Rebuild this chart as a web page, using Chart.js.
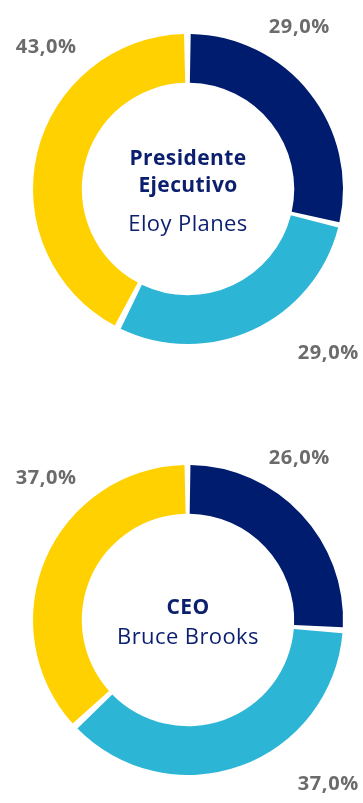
<!DOCTYPE html>
<html lang="es">
<head>
<meta charset="utf-8">
<title>Retribución</title>
<script src="https://cdn.jsdelivr.net/npm/chart.js@4.4.1/dist/chart.umd.min.js"></script>
<style>
  html, body { margin: 0; padding: 0; background: #fff; }
  .donut { position: relative; width: 363px; }
  #box1 { height: 400px; }
  #box2 { height: 403px; }
</style>
</head>
<body>
<div class="donut" id="box1"><canvas id="chartPresidente"></canvas></div>
<div class="donut" id="box2"><canvas id="chartCeo"></canvas></div>

<script>
// ---------- DATA ----------
const segments = ["Tramo 1", "Tramo 2", "Tramo 3"];
const presidenteValues = [29, 29, 43];
const ceoValues = [26, 37, 37];
const presidenteTitle = ["Presidente", "Ejecutivo"];
const presidenteName = "Eloy Planes";
const ceoTitle = ["CEO"];
const ceoName = "Bruce Brooks";

// ---------- STYLE ----------
const colors = ["#001c6e", "#2db5d5", "#ffd100"];
const navy = "#0b1f6e";
const labelGrey = "#6b6b6b";
const fontFamily = "'Open Sans', sans-serif";
// label anchor, in outer-radius units from the ring centre
const labelOffsets = [[0.73, -1.06], [0.92, 1.08], [-0.93, -0.93]];

const fmtPct = v => v.toFixed(1).replace(".", ",") + "%";

// ---------- PLUGINS ----------
const pctLabels = {
  id: "pctLabels",
  afterDatasetsDraw(chart) {
    const ctx = chart.ctx;
    const meta = chart.getDatasetMeta(0);
    const values = chart.data.datasets[0].data;
    ctx.save();
    ctx.font = "700 20px " + fontFamily;
    ctx.letterSpacing = "0.6px";
    ctx.fillStyle = labelGrey;
    ctx.textAlign = "center";
    ctx.textBaseline = "middle";
    meta.data.forEach((arc, i) => {
      const off = labelOffsets[i];
      ctx.fillText(fmtPct(values[i]), arc.x + off[0] * arc.outerRadius, arc.y + off[1] * arc.outerRadius);
    });
    ctx.restore();
  }
};

const centerText = {
  id: "centerText",
  afterDraw(chart, args, opts) {
    const ctx = chart.ctx;
    const arc = chart.getDatasetMeta(0).data[0];
    ctx.save();
    ctx.textAlign = "center";
    ctx.textBaseline = "middle";
    ctx.fillStyle = navy;
    ctx.letterSpacing = "0.4px";
    let y = arc.y + opts.top;
    ctx.font = "700 21px " + fontFamily;
    opts.title.forEach(line => {
      ctx.fillText(line, arc.x, y);
      y += 27;
    });
    ctx.font = "400 22px " + fontFamily;
    ctx.fillText(opts.name, arc.x, y + opts.nameGap);
    ctx.restore();
  }
};

// ---------- CHARTS ----------
function makeDonut(id, values, title, name, padding, textOpts) {
  return new Chart(document.getElementById(id), {
    type: "doughnut",
    data: {
      labels: segments,
      datasets: [{
        data: values,
        backgroundColor: colors,
        borderWidth: 0,
        spacing: 5
      }]
    },
    options: {
      responsive: true,
      maintainAspectRatio: false,
      animation: false,
      cutout: "68%",
      layout: { padding: padding },
      plugins: {
        legend: { display: false },
        tooltip: { enabled: false },
        centerText: Object.assign({ title: title, name: name }, textOpts)
      }
    },
    plugins: [pctLabels, centerText]
  });
}

makeDonut("chartPresidente", presidenteValues, presidenteTitle, presidenteName,
  { top: 34, bottom: 56, left: 33, right: 20 }, { top: -30, nameGap: 12 });
makeDonut("chartCeo", ceoValues, ceoTitle, ceoName,
  { top: 65, bottom: 28, left: 33, right: 20 }, { top: -12, nameGap: 3 });
</script>
</body>
</html>
